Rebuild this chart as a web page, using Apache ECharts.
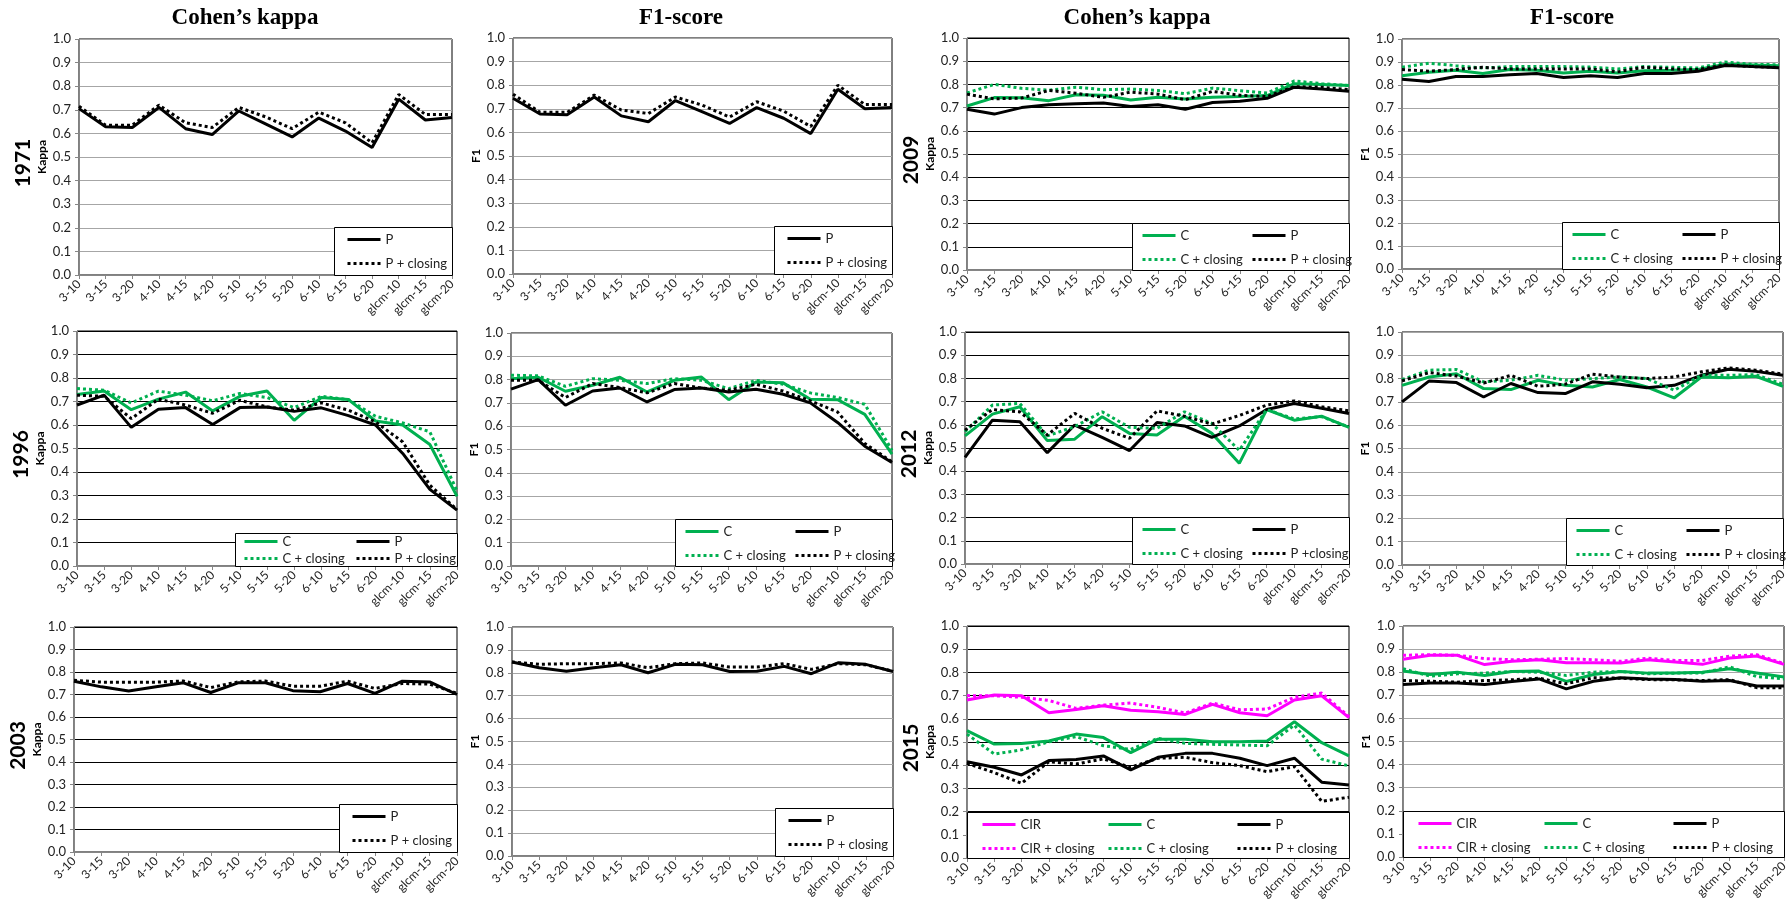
<!DOCTYPE html>
<html>
<head>
<meta charset="utf-8">
<title>Kappa / F1 panels</title>
<script src="https://cdn.jsdelivr.net/npm/echarts/dist/echarts.min.js"></script>
<style>
html, body { margin: 0; padding: 0; background: #fff; }
#my-charts { width: 1791px; height: 913px; }
</style>
</head>
<body>
<div id="my-charts"></div>
<script>
// categories (window size - threshold)
var categories = ['3-10', '3-15', '3-20', '4-10', '4-15', '4-20', '5-10', '5-15', '5-20', '6-10', '6-15', '6-20', 'glcm-10', 'glcm-15', 'glcm-20']
var yTicks = ['0.0', '0.1', '0.2', '0.3', '0.4', '0.5', '0.6', '0.7', '0.8', '0.9', '1.0']

// 1971
var kappa1971P = [0.705, 0.628, 0.625, 0.71, 0.62, 0.595, 0.695, 0.64, 0.585, 0.665, 0.61, 0.54, 0.745, 0.657, 0.667]
var kappa1971Pc = [0.715, 0.635, 0.635, 0.72, 0.645, 0.625, 0.71, 0.67, 0.62, 0.69, 0.645, 0.56, 0.765, 0.68, 0.68]
var f1_1971P = [0.745, 0.678, 0.675, 0.75, 0.67, 0.645, 0.735, 0.687, 0.638, 0.705, 0.66, 0.595, 0.783, 0.70, 0.705]
var f1_1971Pc = [0.762, 0.685, 0.685, 0.758, 0.695, 0.68, 0.75, 0.715, 0.665, 0.73, 0.69, 0.625, 0.80, 0.718, 0.718]

// 2009
var kappa2009C = [0.707, 0.743, 0.742, 0.73, 0.755, 0.753, 0.733, 0.745, 0.737, 0.745, 0.748, 0.752, 0.803, 0.80, 0.795]
var kappa2009P = [0.693, 0.672, 0.70, 0.712, 0.717, 0.72, 0.705, 0.712, 0.693, 0.722, 0.727, 0.74, 0.788, 0.78, 0.77]
var kappa2009Cc = [0.763, 0.80, 0.783, 0.775, 0.788, 0.777, 0.78, 0.774, 0.76, 0.784, 0.773, 0.763, 0.815, 0.803, 0.795]
var kappa2009Pc = [0.758, 0.738, 0.741, 0.774, 0.762, 0.744, 0.767, 0.758, 0.734, 0.77, 0.753, 0.748, 0.79, 0.788, 0.777]
var f1_2009C = [0.84, 0.855, 0.864, 0.85, 0.867, 0.864, 0.852, 0.86, 0.852, 0.862, 0.864, 0.867, 0.89, 0.887, 0.884]
var f1_2009P = [0.825, 0.815, 0.837, 0.837, 0.845, 0.85, 0.833, 0.84, 0.833, 0.85, 0.85, 0.86, 0.885, 0.88, 0.875]
var f1_2009Cc = [0.877, 0.895, 0.884, 0.874, 0.88, 0.88, 0.88, 0.878, 0.87, 0.88, 0.877, 0.874, 0.90, 0.89, 0.888]
var f1_2009Pc = [0.867, 0.86, 0.867, 0.877, 0.87, 0.87, 0.87, 0.87, 0.857, 0.877, 0.87, 0.867, 0.888, 0.88, 0.877]

// 1996
var kappa1996C = [0.73, 0.745, 0.665, 0.71, 0.74, 0.66, 0.722, 0.745, 0.62, 0.717, 0.708, 0.617, 0.60, 0.517, 0.297]
var kappa1996P = [0.685, 0.727, 0.59, 0.667, 0.674, 0.602, 0.674, 0.677, 0.658, 0.673, 0.64, 0.60, 0.479, 0.326, 0.238]
var kappa1996Cc = [0.755, 0.748, 0.694, 0.744, 0.727, 0.703, 0.734, 0.717, 0.674, 0.722, 0.708, 0.637, 0.609, 0.571, 0.32]
var kappa1996Pc = [0.727, 0.722, 0.627, 0.71, 0.685, 0.65, 0.705, 0.677, 0.663, 0.694, 0.663, 0.613, 0.528, 0.344, 0.24]
var f1_1996C = [0.804, 0.81, 0.75, 0.776, 0.81, 0.747, 0.797, 0.811, 0.714, 0.79, 0.786, 0.716, 0.714, 0.651, 0.48]
var f1_1996P = [0.759, 0.80, 0.69, 0.751, 0.764, 0.704, 0.757, 0.764, 0.747, 0.759, 0.737, 0.70, 0.616, 0.514, 0.444]
var f1_1996Cc = [0.819, 0.816, 0.771, 0.804, 0.797, 0.783, 0.804, 0.797, 0.761, 0.797, 0.78, 0.743, 0.723, 0.694, 0.497]
var f1_1996Pc = [0.797, 0.797, 0.723, 0.783, 0.766, 0.743, 0.783, 0.764, 0.754, 0.78, 0.751, 0.709, 0.661, 0.526, 0.447]

// 2012
var kappa2012C = [0.552, 0.646, 0.678, 0.532, 0.538, 0.635, 0.563, 0.556, 0.637, 0.563, 0.434, 0.666, 0.62, 0.637, 0.589]
var kappa2012P = [0.46, 0.62, 0.613, 0.48, 0.599, 0.546, 0.489, 0.61, 0.595, 0.546, 0.595, 0.666, 0.692, 0.671, 0.649]
var kappa2012Cc = [0.57, 0.685, 0.692, 0.552, 0.592, 0.656, 0.589, 0.585, 0.656, 0.606, 0.49, 0.666, 0.625, 0.635, 0.59]
var kappa2012Pc = [0.577, 0.666, 0.656, 0.556, 0.649, 0.585, 0.542, 0.66, 0.637, 0.603, 0.64, 0.685, 0.703, 0.678, 0.66]
var f1_2012C = [0.771, 0.807, 0.821, 0.757, 0.753, 0.793, 0.771, 0.764, 0.796, 0.764, 0.717, 0.807, 0.804, 0.81, 0.767]
var f1_2012P = [0.70, 0.79, 0.783, 0.721, 0.779, 0.74, 0.736, 0.786, 0.776, 0.761, 0.771, 0.814, 0.84, 0.831, 0.814]
var f1_2012Cc = [0.796, 0.836, 0.839, 0.786, 0.793, 0.814, 0.793, 0.80, 0.807, 0.80, 0.75, 0.814, 0.814, 0.817, 0.776]
var f1_2012Pc = [0.79, 0.826, 0.811, 0.781, 0.814, 0.767, 0.776, 0.819, 0.807, 0.80, 0.807, 0.829, 0.846, 0.836, 0.819]

// 2003
var kappa2003P = [0.759, 0.734, 0.716, 0.734, 0.752, 0.709, 0.752, 0.752, 0.717, 0.712, 0.749, 0.705, 0.759, 0.756, 0.70]
var kappa2003Pc = [0.763, 0.755, 0.755, 0.755, 0.76, 0.731, 0.756, 0.76, 0.737, 0.737, 0.759, 0.727, 0.749, 0.746, 0.705]
var f1_2003P = [0.847, 0.822, 0.807, 0.822, 0.835, 0.80, 0.837, 0.835, 0.806, 0.807, 0.828, 0.796, 0.844, 0.837, 0.806]
var f1_2003Pc = [0.847, 0.837, 0.84, 0.84, 0.843, 0.822, 0.84, 0.843, 0.825, 0.825, 0.84, 0.815, 0.84, 0.835, 0.807]

// 2015
var kappa2015CIR = [0.681, 0.703, 0.699, 0.626, 0.64, 0.656, 0.637, 0.63, 0.619, 0.662, 0.626, 0.613, 0.681, 0.699, 0.605]
var kappa2015CIRc = [0.70, 0.699, 0.693, 0.679, 0.645, 0.659, 0.668, 0.649, 0.625, 0.668, 0.639, 0.642, 0.693, 0.711, 0.609]
var kappa2015C = [0.549, 0.491, 0.494, 0.504, 0.534, 0.519, 0.454, 0.512, 0.512, 0.501, 0.501, 0.504, 0.587, 0.497, 0.44]
var kappa2015Cc = [0.534, 0.448, 0.466, 0.501, 0.523, 0.484, 0.468, 0.516, 0.494, 0.49, 0.487, 0.484, 0.573, 0.426, 0.397]
var kappa2015P = [0.415, 0.391, 0.358, 0.42, 0.425, 0.44, 0.38, 0.434, 0.451, 0.451, 0.43, 0.398, 0.43, 0.327, 0.315]
var kappa2015Pc = [0.408, 0.368, 0.322, 0.415, 0.405, 0.427, 0.391, 0.43, 0.434, 0.411, 0.398, 0.372, 0.394, 0.244, 0.262]
var f1_2015CIR = [0.856, 0.873, 0.873, 0.833, 0.847, 0.854, 0.841, 0.841, 0.84, 0.854, 0.844, 0.834, 0.861, 0.87, 0.834]
var f1_2015CIRc = [0.873, 0.876, 0.873, 0.859, 0.854, 0.856, 0.859, 0.854, 0.847, 0.861, 0.851, 0.851, 0.869, 0.876, 0.837]
var f1_2015C = [0.805, 0.79, 0.80, 0.786, 0.803, 0.805, 0.76, 0.79, 0.803, 0.796, 0.796, 0.80, 0.815, 0.797, 0.779]
var f1_2015Cc = [0.815, 0.783, 0.793, 0.796, 0.803, 0.80, 0.786, 0.80, 0.803, 0.793, 0.796, 0.797, 0.823, 0.781, 0.771]
var f1_2015P = [0.747, 0.753, 0.753, 0.747, 0.76, 0.771, 0.728, 0.761, 0.776, 0.771, 0.768, 0.761, 0.764, 0.74, 0.74]
var f1_2015Pc = [0.764, 0.761, 0.757, 0.764, 0.767, 0.774, 0.75, 0.776, 0.774, 0.768, 0.767, 0.764, 0.768, 0.733, 0.733]

var W = 1791
var H = 913
var GREEN = '#00b050'
var PINK = '#ff00ff'
var BLACK = '#000000'
var GRID_GRAY = '#a6a6a6'
var SANS = 'Lato'

// series set per panel: [name, data, color, dotted]
var panels = [
	{ box: [79, 39, 373, 236], year: '1971', axis: 'Kappa', gridColor: GRID_GRAY, lines: [['P', kappa1971P, BLACK, false], ['P + closing', kappa1971Pc, BLACK, true]] },
	{ box: [513, 38, 379, 236], axis: 'F1', gridColor: GRID_GRAY, lines: [['P', f1_1971P, BLACK, false], ['P + closing', f1_1971Pc, BLACK, true]] },
	{ box: [967, 38, 382, 232], year: '2009', axis: 'Kappa', gridColor: BLACK, lines: [['C', kappa2009C, GREEN, false], ['P', kappa2009P, BLACK, false], ['C + closing', kappa2009Cc, GREEN, true], ['P + closing', kappa2009Pc, BLACK, true]] },
	{ box: [1402, 39, 377, 230], axis: 'F1', gridColor: GRID_GRAY, lines: [['C', f1_2009C, GREEN, false], ['P', f1_2009P, BLACK, false], ['C + closing', f1_2009Cc, GREEN, true], ['P + closing', f1_2009Pc, BLACK, true]] },

	{ box: [77, 331, 380, 235], year: '1996', axis: 'Kappa', gridColor: BLACK, compact: true, lines: [['C', kappa1996C, GREEN, false], ['P', kappa1996P, BLACK, false], ['C + closing', kappa1996Cc, GREEN, true], ['P + closing', kappa1996Pc, BLACK, true]] },
	{ box: [511, 333, 381, 233], axis: 'F1', gridColor: GRID_GRAY, lines: [['C', f1_1996C, GREEN, false], ['P', f1_1996P, BLACK, false], ['C + closing', f1_1996Cc, GREEN, true], ['P + closing', f1_1996Pc, BLACK, true]] },
	{ box: [965, 332, 384, 232], year: '2012', axis: 'Kappa', gridColor: BLACK, lines: [['C', kappa2012C, GREEN, false], ['P', kappa2012P, BLACK, false], ['C + closing', kappa2012Cc, GREEN, true], ['P +closing', kappa2012Pc, BLACK, true]] },
	{ box: [1402, 332, 381, 233], axis: 'F1', gridColor: GRID_GRAY, lines: [['C', f1_2012C, GREEN, false], ['P', f1_2012P, BLACK, false], ['C + closing', f1_2012Cc, GREEN, true], ['P + closing', f1_2012Pc, BLACK, true]] },

	{ box: [74, 627, 383, 225], year: '2003', axis: 'Kappa', gridColor: BLACK, lines: [['P', kappa2003P, BLACK, false], ['P + closing', kappa2003Pc, BLACK, true]] },
	{ box: [512, 627, 381, 229], axis: 'F1', gridColor: GRID_GRAY, lines: [['P', f1_2003P, BLACK, false], ['P + closing', f1_2003Pc, BLACK, true]] },
	{ box: [967, 626, 382, 232], year: '2015', axis: 'Kappa', gridColor: BLACK, lines: [['CIR', kappa2015CIR, PINK, false], ['C', kappa2015C, GREEN, false], ['P', kappa2015P, BLACK, false], ['CIR + closing', kappa2015CIRc, PINK, true], ['C + closing', kappa2015Cc, GREEN, true], ['P + closing', kappa2015Pc, BLACK, true]] },
	{ box: [1403, 626, 381, 231], axis: 'F1', gridColor: GRID_GRAY, lines: [['CIR', f1_2015CIR, PINK, false], ['C', f1_2015C, GREEN, false], ['P', f1_2015P, BLACK, false], ['CIR + closing', f1_2015CIRc, PINK, true], ['C + closing', f1_2015Cc, GREEN, true], ['P + closing', f1_2015Pc, BLACK, true]] }
]

// column headers
var headers = [['Cohen’s kappa', 245], ['F1-score', 681], ['Cohen’s kappa', 1137], ['F1-score', 1572]]

// legend: white framed box in the lower right of the plot, one vertical legend per column
function makeLegends(p, names) {
	var b = p.box
	var n = names.length
	var bw, bh, cols, pad, gap
	if (n === 2) {
		bw = 118; bh = 48; cols = [12]; pad = 6; gap = 11
	} else if (n === 4) {
		if (p.compact) {
			bw = 222; bh = 33; cols = [8, 120]; pad = 2; gap = 4
		} else {
			bw = 217; bh = 47; cols = [9, 119]; pad = 6; gap = 11
		}
	} else {
		bw = b[2]; bh = Math.round(b[3] * 0.2); cols = [14, 140, 269]; pad = 6; gap = 11
	}
	var bx = b[0] + b[2] - bw
	var by = b[1] + b[3] - bh
	var rows = 2
	var perCol = n / rows
	var out = []
	cols.forEach(function(cx, c) {
		var items = []
		for (var r = 0; r < rows; r++) {
			items.push(n === 2 ? names[r] : names[r * perCol + c])
		}
		out.push({
			data: items,
			selectedMode: false,
			orient: 'vertical',
			left: bx + cx,
			top: by + pad,
			padding: 0,
			z: 10,
			itemGap: gap,
			itemWidth: 33,
			itemHeight: 12,
			itemStyle: { color: 'transparent', borderColor: 'transparent', borderWidth: 0 },
			lineStyle: { width: 3 },
			textStyle: { fontFamily: SANS, fontSize: 13, color: '#222' }
		})
	})
	return {
		legends: out,
		frame: {
			type: 'rect',
			z: 5,
			shape: { x: bx + 0.5, y: by + 0.5, width: bw, height: bh },
			style: { fill: '#fff', stroke: '#000', lineWidth: 1 }
		}
	}
}

function setEcharts() {
	var myChart = echarts.init(document.getElementById('my-charts'))
	var grids = []
	var xAxes = []
	var yAxes = []
	var series = []
	var legends = []
	var graphics = []

	panels.forEach(function(p, i) {
		var b = p.box
		grids.push({
			left: b[0], top: b[1], width: b[2], height: b[3],
			show: true, borderColor: '#000', borderWidth: 1, backgroundColor: 'transparent'
		})
		xAxes.push({
			type: 'category',
			gridIndex: i,
			data: categories,
			boundaryGap: false,
			axisLine: { lineStyle: { color: '#868686', width: 1 } },
			axisTick: { show: true, length: 4, interval: 0, lineStyle: { color: '#868686' } },
			axisLabel: { interval: 0, rotate: 45, fontFamily: SANS, fontSize: 12, color: '#222', margin: 7 },
			splitLine: { show: false }
		})
		yAxes.push({
			type: 'value',
			gridIndex: i,
			min: 0,
			max: 1,
			interval: 0.1,
			name: p.axis,
			nameLocation: 'middle',
			nameGap: 31,
			nameTextStyle: { fontFamily: SANS, fontWeight: 'bold', fontSize: 12, color: '#000' },
			axisLine: { show: true, lineStyle: { color: '#868686' } },
			axisTick: { show: true, length: 4, lineStyle: { color: '#868686' } },
			axisLabel: {
				fontFamily: SANS, fontSize: 13, color: '#222', margin: 8,
				formatter: function(v) { return yTicks[Math.round(v * 10)] }
			},
			splitLine: { show: true, lineStyle: { color: p.gridColor, width: 1 } }
		})
		var names = []
		p.lines.forEach(function(l) {
			names.push(l[0])
			series.push({
				name: l[0],
				type: 'line',
				xAxisIndex: i,
				yAxisIndex: i,
				data: l[1],
				symbol: 'none',
				smooth: false,
				z: 2,
				itemStyle: { color: l[2] },
				lineStyle: { color: l[2], width: 3, type: l[3] ? [3, 3] : 'solid' }
			})
		})
		var lg = makeLegends(p, names)
		lg.legends.forEach(function(l) { legends.push(l) })
		graphics.push(lg.frame)
		if (p.year) {
			graphics.push({
				type: 'text',
				x: b[0] - 56,
				y: b[1] + b[3] / 2 + 6,
				rotation: Math.PI / 2,
				style: { text: p.year, font: 'bold 21px ' + SANS, fill: '#000', textAlign: 'center', textVerticalAlign: 'middle' }
			})
		}
	})

	headers.forEach(function(h) {
		graphics.push({
			type: 'text',
			x: h[1],
			y: 18,
			style: { text: h[0], font: 'bold 23px "Liberation Serif"', fill: '#000', textAlign: 'center', textVerticalAlign: 'middle' }
		})
	})

	var option = {
		animation: false,
		backgroundColor: '#fff',
		grid: grids,
		xAxis: xAxes,
		yAxis: yAxes,
		series: series,
		legend: legends,
		graphic: { elements: graphics }
	}
	myChart.setOption(option)
	myChart.resize()
}

setEcharts()
</script>
</body>
</html>
